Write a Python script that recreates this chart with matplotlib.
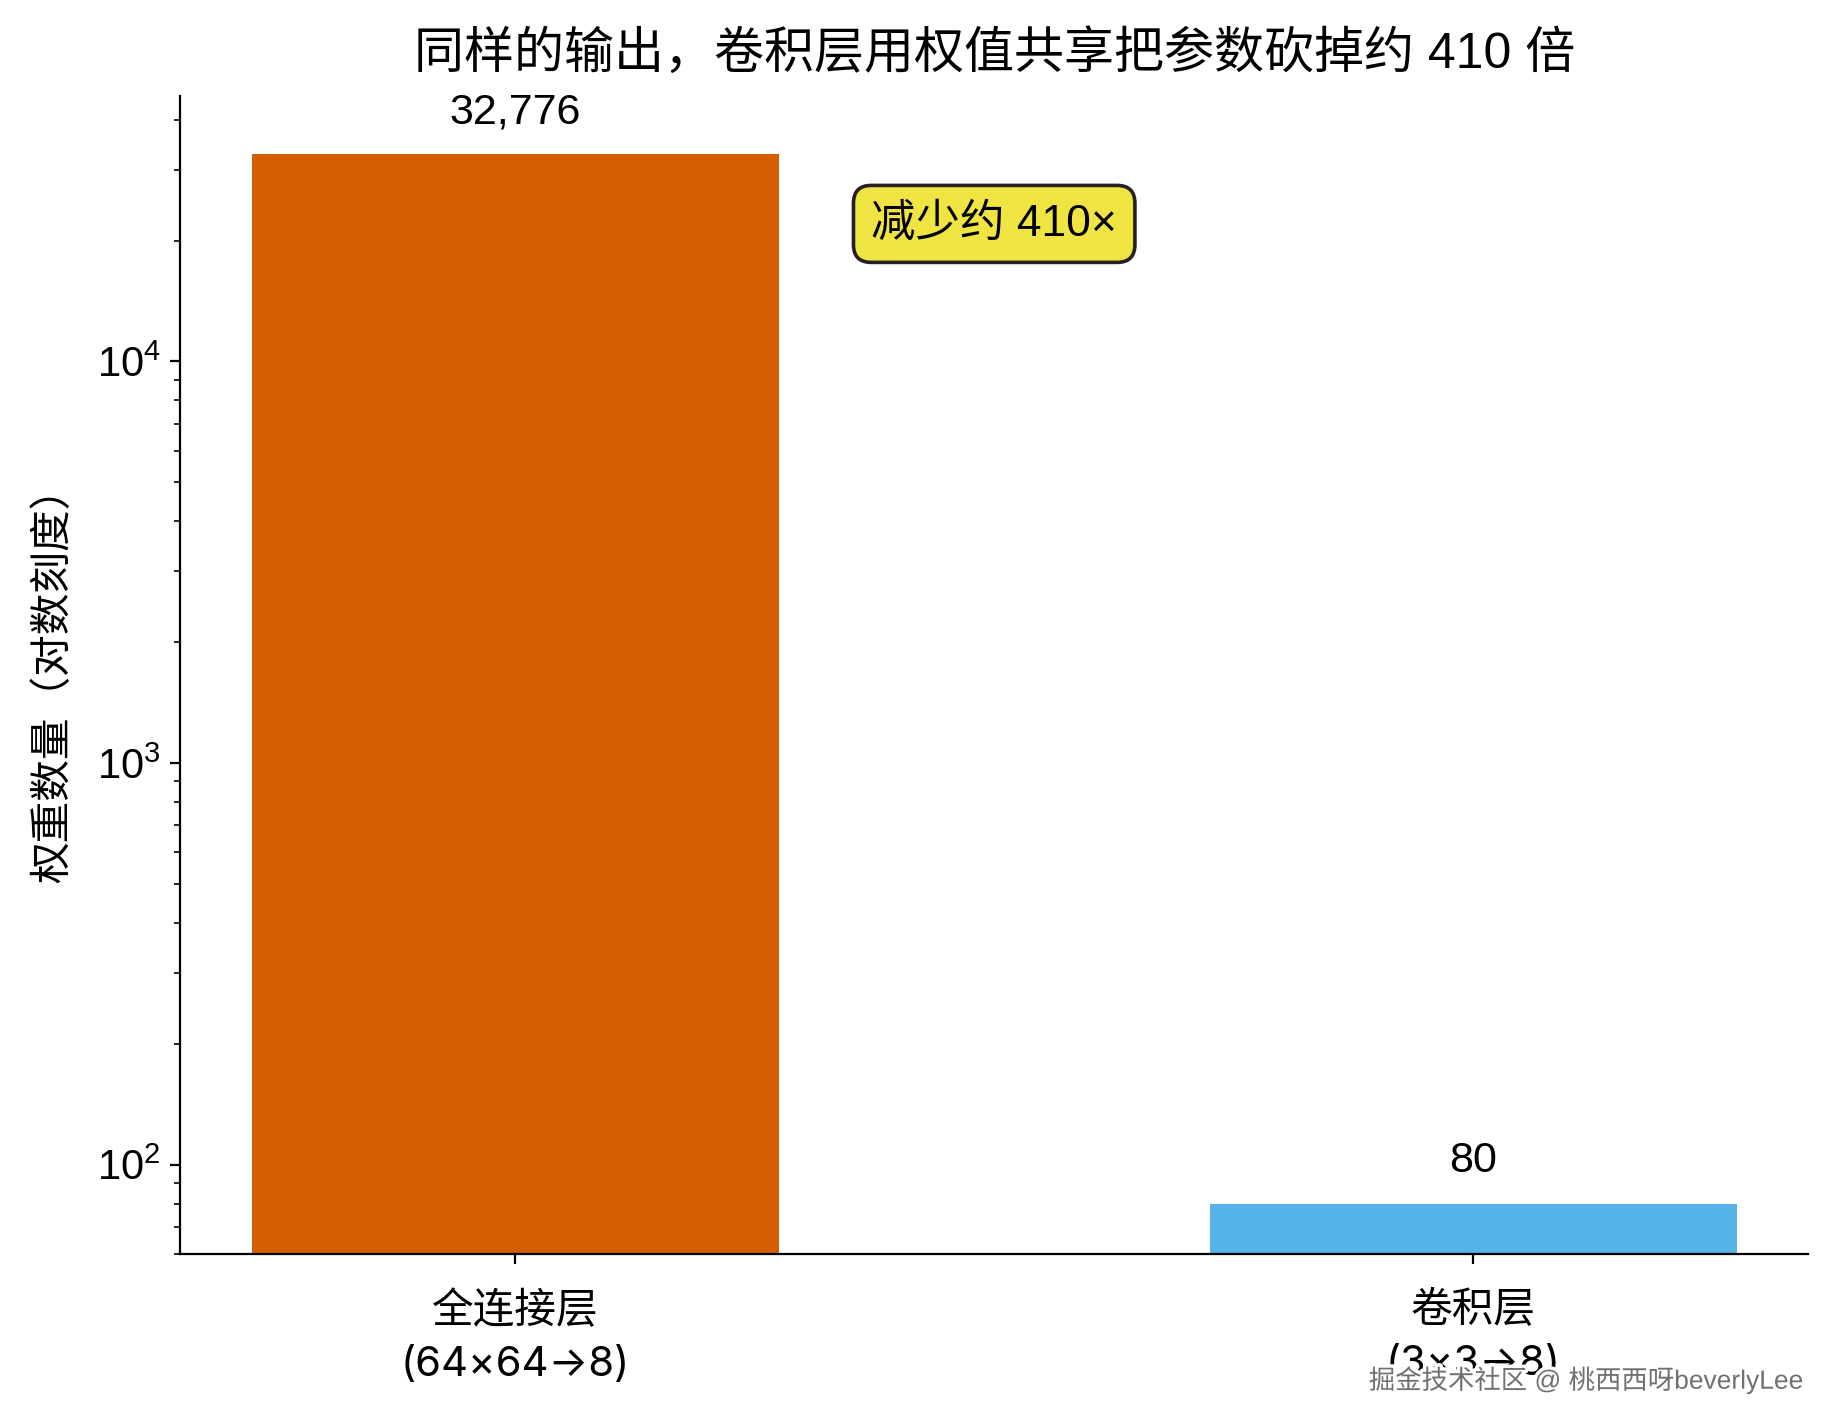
import matplotlib
matplotlib.use("Agg")
import matplotlib.pyplot as plt
import matplotlib.patheffects as pe

plt.rcParams['font.family'] = ['Liberation Sans', 'Noto Sans CJK SC', 'DejaVu Sans']

categories = ['全连接层\n(64×64→8)', '卷积层\n(3×3→8)']
weights = [32776, 80]
colors = ['#D55E00', '#56B4E9']
ratio = weights[0] / weights[1]

fig, ax = plt.subplots(figsize=(9.18, 7.14), dpi=200)
fig.subplots_adjust(left=0.098, right=0.985, bottom=0.122, top=0.933)

x = range(len(categories))
bars = ax.bar(x, weights, width=0.55, color=colors)
ax.set_yscale('log')
ax.set_ylim(60, max(weights) * 1.4)
ax.set_xlim(-0.35, 1.35)
ax.set_xticks(list(x))
ax.set_xticklabels(categories, fontsize=15, linespacing=1.5,
                   family=['Inter', 'Noto Sans CJK SC', 'DejaVu Sans'])
ax.tick_params(axis='x', pad=10)
ax.tick_params(axis='y', labelsize=15)
ax.set_ylabel('权重数量（对数刻度）', fontsize=15, labelpad=8)
ax.set_title(f'同样的输出，卷积层用权值共享把参数砍掉约 {ratio:.0f} 倍', fontsize=18, pad=10)

for b, v in zip(bars, weights):
    ax.annotate(f'{v:,}', (b.get_x() + b.get_width() / 2, v),
                xytext=(0, 8), textcoords='offset points',
                ha='center', va='bottom', fontsize=15.5)

ax.text(0.5, 22000, f'减少约 {ratio:.0f}×', ha='center', va='center', fontsize=16,
        bbox=dict(boxstyle='round,pad=0.4', facecolor='#F0E442', edgecolor='#222222', linewidth=1.3))

ax.spines['top'].set_visible(False)
ax.spines['right'].set_visible(False)

# watermark
fig.text(0.982, 0.024, '掘金技术社区 @ 桃西西呀beverlyLee', ha='right', va='bottom',
         fontsize=9.5, color='#707070',
         path_effects=[pe.withStroke(linewidth=2.5, foreground='white')])

fig.savefig('out.png', dpi=200)
